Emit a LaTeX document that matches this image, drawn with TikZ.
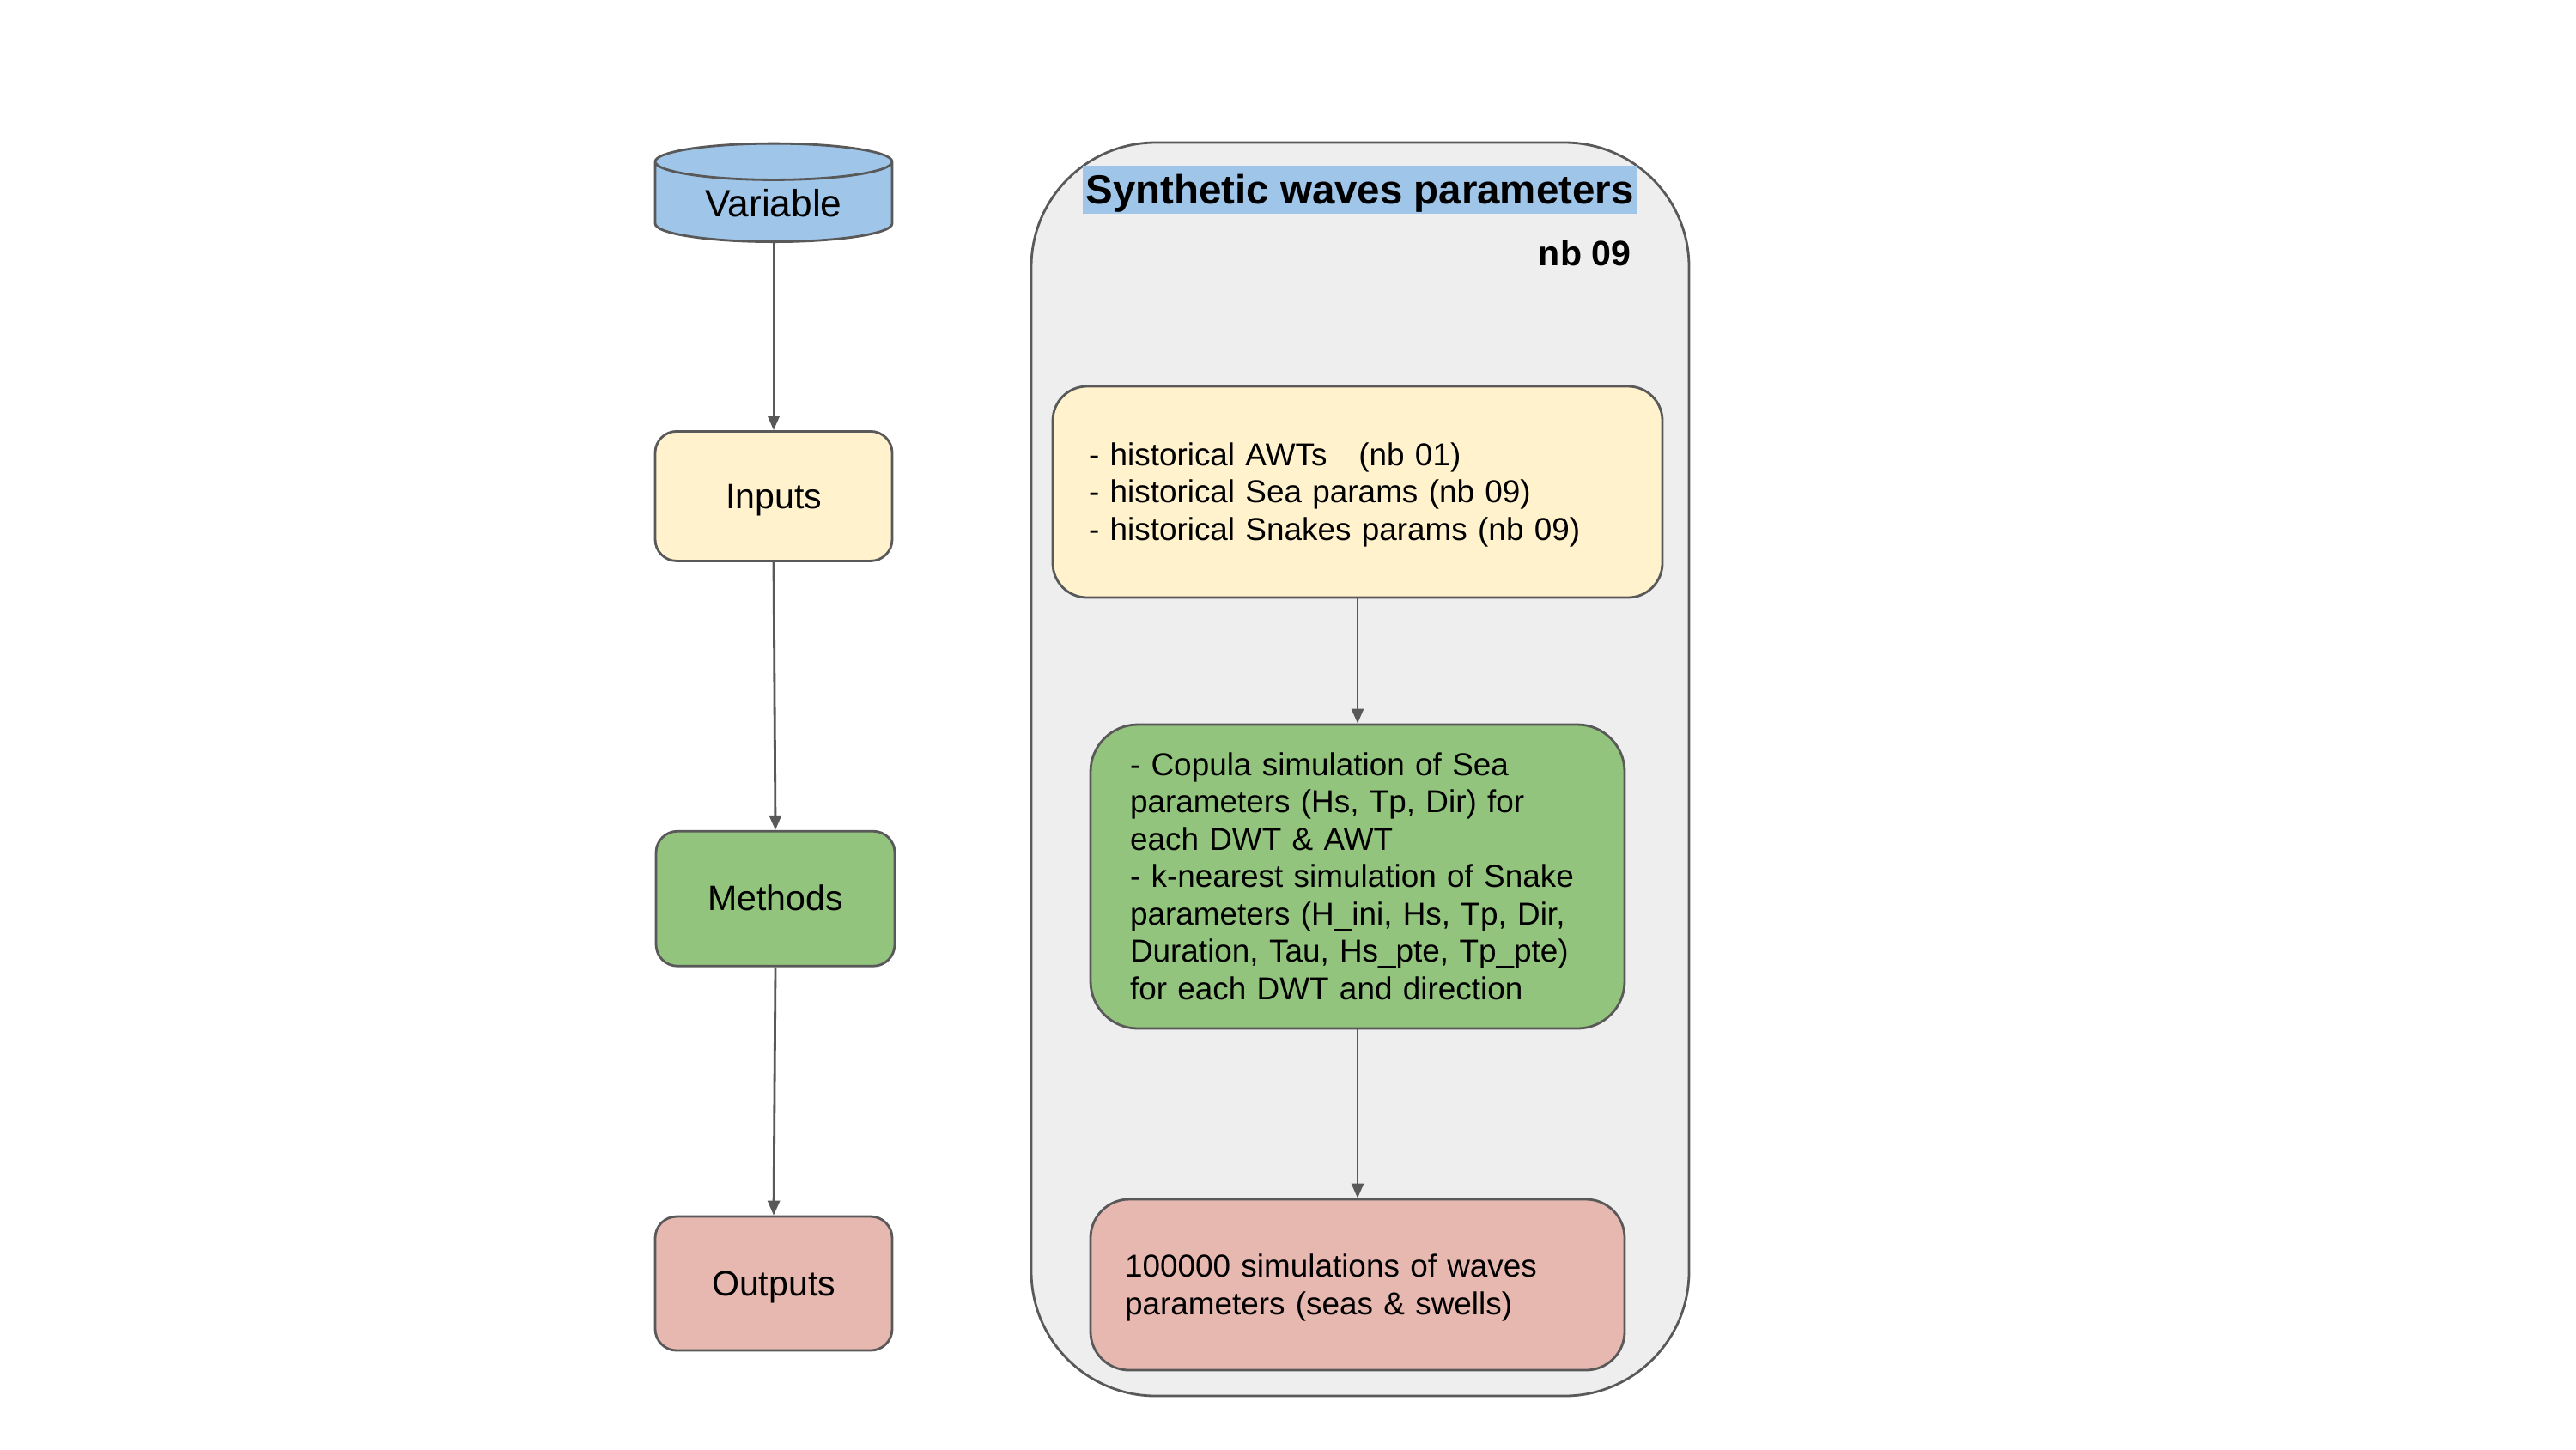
\documentclass[tikz,border=0pt]{standalone}
\usepackage{fontspec}
\setmainfont{Liberation Sans}
\usepackage{xcolor}
\usetikzlibrary{positioning, arrows.meta, shapes.geometric}

\definecolor{edgegray}{HTML}{595959}
\definecolor{panelgray}{HTML}{EEEEEE}
\definecolor{varblue}{HTML}{9FC5E8}
\definecolor{inyellow}{HTML}{FFF2CC}
\definecolor{methgreen}{HTML}{93C47D}
\definecolor{outred}{HTML}{E6B8AF}

\begin{document}
\begin{tikzpicture}[
  fontstrut/.style={execute at begin node={\rule[-0.212em]{0pt}{1.117em}}, execute at end node={\rule[-0.212em]{0pt}{0.212em}}},
  legend/.style={draw=edgegray, line width=0.8pt, rounded corners=0.25cm, minimum width=2.76cm, fontstrut, font=\fontsize{11.7}{14}\selectfont},
  stagebox/.style={draw=edgegray, line width=0.8pt, align=left, inner ysep=0pt, fontstrut, font=\fontsize{10.5}{12.4}\selectfont},
  flow/.style={draw=edgegray, line width=0.8pt, -{Triangle[length=0.17cm, width=0.14cm]}}]
\useasboundingbox (0,0) rectangle (30,-16.88);

% legend column
\node[draw=edgegray, line width=0.8pt, fill=varblue, cylinder, shape border rotate=90, aspect=0.26, inner sep=0.5pt, minimum width=2.76cm, minimum height=1.07cm, anchor=south, fontstrut, font=\fontsize{12.6}{15}\selectfont] (variable) at (9.01,-2.83) {Variable};
\node[legend, fill=inyellow, minimum height=1.51cm, below=2.18cm of variable] (inputs) {Inputs};
\node[legend, fill=methgreen, minimum width=2.78cm, minimum height=1.57cm, below=3.12cm of inputs, xshift=0.02cm] (methods) {Methods};
\node[legend, fill=outred, minimum height=1.56cm, below=2.89cm of methods, xshift=-0.02cm] (outputs) {Outputs};

\draw[flow] (variable.south) -- (inputs.north);
\draw[flow] (inputs.south) -- (methods.north);
\draw[flow] (methods.south) -- (outputs.north);

% notebook panel
\node[draw=edgegray, line width=0.8pt, fill=panelgray, rounded corners=1.45cm, minimum width=7.66cm, minimum height=14.6cm] (panel) at (15.84,-8.96) {};
\node[fill=varblue, inner xsep=1pt, inner ysep=0pt, minimum height=0.56cm, fontstrut, font=\fontsize{13.5}{16}\selectfont\bfseries] (title) at (15.835,-2.21) {Synthetic waves parameters};
\node[anchor=east, inner sep=0pt, fontstrut, font=\fontsize{11.7}{14}\selectfont\bfseries] (nb) at (19.0,-2.95) {nb 09};

\node[stagebox, fill=inyellow, rounded corners=0.4cm, inner xsep=0.42cm, text width=6.26cm, minimum height=2.46cm] (histin) at (15.81,-5.73) {- historical AWTs\ \ \ (nb 01)\\- historical Sea params (nb 09)\\- historical Snakes params (nb 09)};
\node[stagebox, fill=methgreen, rounded corners=0.55cm, inner xsep=0.46cm, text width=5.3cm, minimum height=3.54cm] (simgen) at (15.81,-10.21) {- Copula simulation of Sea\\parameters (Hs, Tp, Dir) for\\each DWT \& AWT\\- k-nearest simulation of Snake\\parameters (H\_ini, Hs, Tp, Dir,\\Duration, Tau, Hs\_pte, Tp\_pte)\\for each DWT and direction};
\node[stagebox, fill=outred, rounded corners=0.45cm, inner xsep=0.40cm, text width=5.42cm, minimum height=1.99cm] (simout) at (15.81,-14.965) {100000 simulations of waves\\parameters (seas \& swells)};

\draw[flow] (histin) -- (simgen);
\draw[flow] (simgen) -- (simout);
\end{tikzpicture}
\end{document}
